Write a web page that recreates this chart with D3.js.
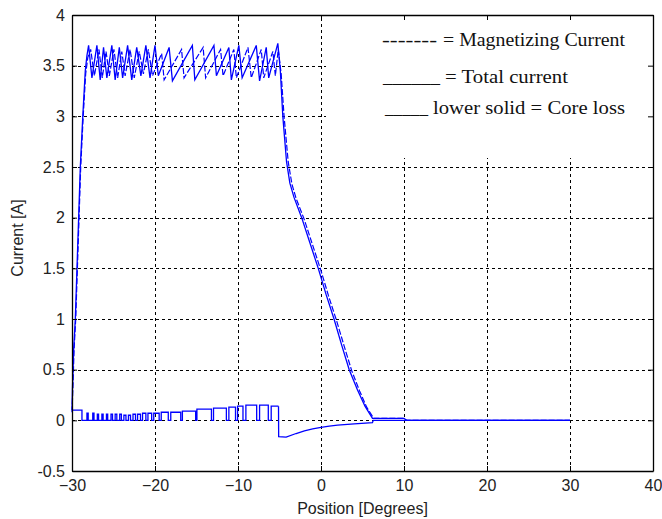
<!DOCTYPE html>
<html>
<head>
<meta charset="utf-8">
<script src="https://cdn.jsdelivr.net/npm/d3@7"></script>
<style>
  html, body { margin: 0; padding: 0; background: #fff; }
  svg { display: block; }
</style>
</head>
<body>
<svg id="chart" width="662" height="519"></svg>
<script>
// Tick values for both axes
const xTicks = [-30, -20, -10, 0, 10, 20, 30, 40];
const yTicks = [-0.5, 0, 0.5, 1, 1.5, 2, 2.5, 3, 3.5, 4];

// Total phase current [position (deg), current (A)]
const totalCurrent = [
  [-30.0, 0.10], [-29.95, 0.30], [-29.8, 0.70], [-29.6, 1.00], [-29.4, 1.50],
  [-29.2, 2.00], [-29.0, 2.50], [-28.7, 3.00], [-28.4, 3.45], [-28.2, 3.60],
  [-28.0, 3.70], [-27.6, 3.38], [-27.0, 3.70], [-26.6, 3.36], [-26.2, 3.68],
  [-25.8, 3.38], [-25.2, 3.70], [-24.8, 3.36], [-24.3, 3.68], [-23.9, 3.38],
  [-23.3, 3.70], [-22.8, 3.36], [-22.2, 3.68], [-21.7, 3.40], [-21.1, 3.70],
  [-20.6, 3.38], [-20.0, 3.70], [-19.6, 3.40], [-18.3, 3.68], [-17.9, 3.35],
  [-15.5, 3.70], [-15.2, 3.36], [-12.9, 3.70], [-12.6, 3.40], [-11.1, 3.68],
  [-10.8, 3.36], [-9.9, 3.70], [-9.5, 3.38], [-7.8, 3.70], [-7.4, 3.35],
  [-6.6, 3.68], [-6.3, 3.38], [-5.2, 3.72],
  [-4.9, 3.45], [-4.6, 3.00], [-4.15, 2.55], [-3.75, 2.34], [-3.25, 2.20],
  [-2.33, 2.00], [-1.33, 1.75], [-0.33, 1.50], [0.62, 1.24], [1.57, 1.00],
  [2.5, 0.74], [3.4, 0.50], [4.4, 0.30], [5.3, 0.14], [6.2, 0.02],
  [10.0, 0.02], [10.3, 0.0], [30.0, 0.0]
];

// Magnetizing current [position (deg), current (A)]
const magnetizingCurrent = [
  [-30.0, 0.08], [-29.9, 0.30], [-29.75, 0.70], [-29.55, 1.00], [-29.35, 1.50],
  [-29.15, 2.00], [-28.95, 2.50], [-28.65, 3.00], [-28.35, 3.42], [-28.1, 3.58],
  [-27.75, 3.66], [-27.3, 3.40], [-26.75, 3.66], [-26.35, 3.38], [-25.9, 3.64],
  [-25.5, 3.40], [-24.95, 3.66], [-24.5, 3.38], [-24.0, 3.64], [-23.6, 3.40],
  [-23.0, 3.66], [-22.5, 3.38], [-21.9, 3.64], [-21.4, 3.42], [-20.8, 3.66],
  [-20.3, 3.40], [-19.2, 3.62], [-18.9, 3.36], [-16.8, 3.66], [-16.5, 3.38],
  [-14.2, 3.68], [-13.9, 3.38], [-12.1, 3.66], [-11.8, 3.40], [-10.5, 3.66],
  [-10.2, 3.38], [-8.8, 3.68], [-8.4, 3.38], [-7.2, 3.66], [-6.9, 3.38],
  [-5.8, 3.64], [-5.5, 3.40], [-5.15, 3.66],
  [-4.8, 3.42], [-4.45, 3.00], [-3.95, 2.55], [-3.5, 2.33], [-3.0, 2.19],
  [-2.05, 1.99], [-1.05, 1.74], [-0.05, 1.49], [0.9, 1.23], [1.85, 0.99],
  [2.8, 0.73], [3.7, 0.49], [4.65, 0.29], [5.5, 0.13], [6.35, 0.02],
  [10.0, 0.02], [10.3, 0.0], [30.0, 0.0]
];

// Core-loss current while the phase is chopping: each point holds its level
// until the next point (step-after)
const coreLossSteps = [
  [-30.0, 0.10], [-28.8, 0.00],
  [-28.2, 0.07], [-28.05, 0.00], [-27.5, 0.07], [-27.35, 0.00],
  [-26.95, 0.06], [-26.8, 0.00], [-26.4, 0.06], [-26.25, 0.00],
  [-25.85, 0.06], [-25.7, 0.00], [-25.3, 0.06], [-25.12, 0.00],
  [-24.8, 0.06], [-24.6, 0.00], [-24.25, 0.06], [-24.05, 0.00],
  [-23.75, 0.05], [-23.5, 0.00], [-23.2, 0.05], [-22.95, 0.00],
  [-22.65, 0.06], [-22.35, 0.00], [-22.1, 0.06], [-21.75, 0.00],
  [-21.5, 0.07], [-21.1, 0.00], [-20.85, 0.07], [-20.4, 0.00],
  [-20.15, 0.07], [-19.5, 0.00], [-19.25, 0.08], [-18.4, 0.00],
  [-18.1, 0.08], [-16.9, 0.00], [-16.7, 0.09], [-15.1, 0.00],
  [-14.95, 0.11], [-13.2, 0.00], [-12.95, 0.12], [-11.4, 0.00],
  [-11.1, 0.13], [-10.3, 0.00], [-10.05, 0.14], [-9.4, 0.00],
  [-9.05, 0.15], [-7.75, 0.00], [-7.4, 0.15], [-6.35, 0.00],
  [-6.0, 0.14], [-5.12, 0.14]
];

// Core-loss current after the phase is switched off
const coreLossTail = [
  [-5.12, 0.14], [-5.1, -0.16], [-4.2, -0.165], [-3.0, -0.13], [-2.0, -0.105],
  [-1.0, -0.085], [0.0, -0.07], [1.0, -0.058], [2.0, -0.048], [4.0, -0.035],
  [6.2, -0.022], [6.3, 0.0], [30.0, 0.0]
];

// Legend entries
const legendLines = [
  { key: "-------", keyX0: 382, keyX1: 437, label: "= Magnetizing Current", x0: 443, x1: 625, y: 46 },
  { key: "______", keyX0: 383, keyX1: 440, label: "= Total current", x0: 445, x1: 568, y: 83 },
  { key: "_____", keyX0: 385, keyX1: 428, label: "lower solid = Core loss", x0: 433, x1: 625, y: 114 }
];

const svg = d3.select("#chart");
const margin = { left: 72, right: 9, top: 15, bottom: 48 };
const W = 662, H = 519;
const x = d3.scaleLinear().domain([-30, 40]).range([margin.left, W - margin.right]);
const y = d3.scaleLinear().domain([-0.5, 4]).range([H - margin.bottom, margin.top]);
const plotW = x.range()[1] - x.range()[0];
const plotH = y.range()[0] - y.range()[1];

// Dashed grid
const gridX = svg.append("g")
  .attr("transform", `translate(0,${y.range()[0]})`)
  .call(d3.axisBottom(x).tickValues(xTicks).tickSize(-plotH).tickFormat(""));
const gridY = svg.append("g")
  .attr("transform", `translate(${x.range()[0]},0)`)
  .call(d3.axisLeft(y).tickValues(yTicks).tickSize(-plotW).tickFormat(""));
[gridX, gridY].forEach(g => {
  g.select(".domain").remove();
  g.selectAll("line").attr("stroke", "#000").attr("stroke-width", 1)
    .attr("stroke-dasharray", "3,3").attr("shape-rendering", "crispEdges");
});

// Curves
const line = d3.line().x(d => x(d[0])).y(d => y(d[1]));
const stepLine = d3.line().x(d => x(d[0])).y(d => y(d[1])).curve(d3.curveStepAfter);
const blue = "#0000ff";

svg.append("path").datum(coreLossSteps).attr("d", stepLine)
  .attr("fill", "none").attr("stroke", blue).attr("stroke-width", 1.3);
svg.append("path").datum(coreLossTail).attr("d", line)
  .attr("fill", "none").attr("stroke", blue).attr("stroke-width", 1.3);
svg.append("path").datum(magnetizingCurrent).attr("d", line)
  .attr("fill", "none").attr("stroke", blue).attr("stroke-width", 1.2)
  .attr("stroke-dasharray", "6,2");
svg.append("path").datum(totalCurrent).attr("d", line)
  .attr("fill", "none").attr("stroke", blue).attr("stroke-width", 1.3);

// Legend panel
svg.append("rect")
  .attr("x", 326).attr("y", y(4) + 1)
  .attr("width", x(40) - 326 - 1).attr("height", 158 - y(4) - 1)
  .attr("fill", "#fff");
const leg = svg.append("g").attr("font-family", "'Liberation Serif', 'Times New Roman', serif")
  .attr("font-size", 18).attr("fill", "#111");
legendLines.forEach(d => {
  leg.append("text").attr("x", d.keyX0).attr("y", d.y)
    .attr("textLength", d.keyX1 - d.keyX0).attr("lengthAdjust", "spacingAndGlyphs")
    .text(d.key);
  leg.append("text").attr("x", d.x0).attr("y", d.y)
    .attr("textLength", d.x1 - d.x0).attr("lengthAdjust", "spacingAndGlyphs")
    .text(d.label);
});

// Axes box with inward ticks on all four sides
const tickLen = 5;
const axFont = "'Liberation Sans', Arial, sans-serif";
const axB = svg.append("g").attr("transform", `translate(0,${y.range()[0]})`)
  .call(d3.axisBottom(x).tickValues(xTicks).tickSizeInner(-tickLen).tickSizeOuter(0).tickPadding(11));
const axT = svg.append("g").attr("transform", `translate(0,${y.range()[1]})`)
  .call(d3.axisTop(x).tickValues(xTicks).tickSizeInner(-tickLen).tickSizeOuter(0).tickFormat(""));
const axL = svg.append("g").attr("transform", `translate(${x.range()[0]},0)`)
  .call(d3.axisLeft(y).tickValues(yTicks).tickSizeInner(-tickLen).tickSizeOuter(0).tickPadding(7)
    .tickFormat(d => String(d)));
const axR = svg.append("g").attr("transform", `translate(${x.range()[1]},0)`)
  .call(d3.axisRight(y).tickValues(yTicks).tickSizeInner(-tickLen).tickSizeOuter(0).tickFormat(""));
[axB, axT, axL, axR].forEach(g => {
  g.select(".domain").attr("stroke", "#000").attr("stroke-width", 1.3);
  g.selectAll(".tick line").attr("stroke", "#000").attr("stroke-width", 1);
  g.selectAll("text").attr("font-family", axFont).attr("font-size", 16).attr("fill", "#222");
});
axB.selectAll("text").attr("dy", "0.55em");

// Axis titles
svg.append("text")
  .attr("x", (x.range()[0] + x.range()[1]) / 2).attr("y", 514)
  .attr("text-anchor", "middle").attr("font-family", axFont).attr("font-size", 16).attr("fill", "#222")
  .text("Position [Degrees]");
svg.append("text")
  .attr("transform", `translate(23,${(y.range()[0] + y.range()[1]) / 2 - 5}) rotate(-90)`)
  .attr("text-anchor", "middle").attr("font-family", axFont).attr("font-size", 16).attr("fill", "#222")
  .text("Current [A]");
</script>
</body>
</html>
